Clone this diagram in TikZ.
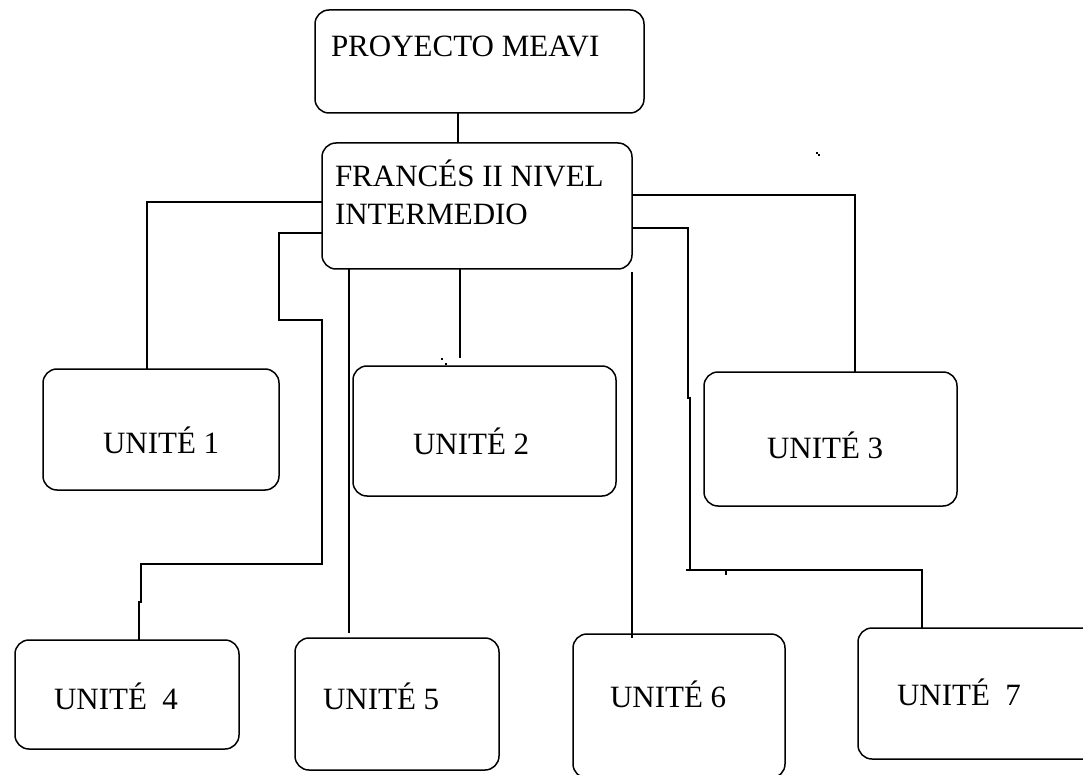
\documentclass[tikz,border=0pt]{standalone}
\usepackage{fontspec}
\setmainfont{Liberation Serif}
\begin{document}
\begin{tikzpicture}[x=1pt,y=-1pt,
  box/.style={draw=black, line width=1.5pt, rounded corners=14pt,
    inner sep=0pt, outer sep=0pt},
  lbl/.style={anchor=base west, inner sep=0pt, outer sep=0pt,
    font=\fontsize{31}{38}\selectfont},
  wire/.style={draw=black, line width=1.5pt}]
  \useasboundingbox[fill=white] (0,0) rectangle (1083,775);

  % boxes
  \node[box, minimum width=329pt, minimum height=103pt] (top) at (479.5,61.5) {};
  \node[box, minimum width=310pt, minimum height=126pt] (mid) at (477,206) {};
  \node[box, minimum width=236pt, minimum height=121pt] (u1) at (161,429.5) {};
  \node[box, minimum width=263pt, minimum height=130pt] (u2) at (484.5,431) {};
  \node[box, minimum width=253pt, minimum height=134pt] (u3) at (830.5,439) {};
  \node[box, minimum width=224pt, minimum height=109pt] (u4) at (127,694.5) {};
  \node[box, minimum width=204pt, minimum height=132pt] (u5) at (397,704) {};
  \node[box, minimum width=212pt, minimum height=144pt] (u6) at (679,706) {};
  \node[box, minimum width=240pt, minimum height=131pt] (u7) at (978,693.5) {};

  % labels
  \node[lbl] (topt)  at (331,57)  {PROYECTO MEAVI};
  \node[lbl] (midt1) at (335,187) {FRANCÉS II NIVEL};
  \node[lbl] (midt2) at (335,225) {INTERMEDIO};
  \node[lbl] (u1t) at (103,453) {UNITÉ 1};
  \node[lbl] (u2t) at (413,454) {UNITÉ 2};
  \node[lbl] (u3t) at (767,458) {UNITÉ 3};
  \node[lbl] (u4t) at (54,709)  {UNITÉ~~4};
  \node[lbl] (u5t) at (323,709) {UNITÉ 5};
  \node[lbl] (u6t) at (610,707) {UNITÉ 6};
  \node[lbl] (u7t) at (897,705) {UNITÉ~~7};

  % connectors
  \draw[wire] (top.south -| 458,0) -- (mid.north -| 458,0);
  \draw[wire] (mid.west |- 0,202) -| (u1.north -| 147,0);
  \draw[wire] (mid.west |- 0,233) -| (279,320) -| (322,564) -| (141,602)
    -| (u4.north -| 139,0);
  \draw[wire] (mid.south -| 349,0) -- ([yshift=5pt]u5.north -| 349,0);
  \draw[wire] (mid.south -| 460,0) -- ([yshift=8pt]u2.north -| 460,0);
  \draw[wire] ([yshift=-3pt]mid.south east) -- ([yshift=-4pt]u6.north -| 632,0);
  \draw[wire] (mid.east |- 0,195) -| (u3.north -| 855,0);
  \draw[wire] (mid.east |- 0,228) -| (688,398) -| (690,570) -| (u7.north -| 922,0);
  \draw[wire] (686,570) -- (690,570);
  \draw[wire] (726,570) -- (726,575);

  % stray specks
  \fill (441,358) rectangle (443,360);
  \fill (445,363) rectangle (447,365);
  \fill (816,152) rectangle (818,154);
  \fill (818,154) rectangle (820,156);
\end{tikzpicture}
\end{document}
